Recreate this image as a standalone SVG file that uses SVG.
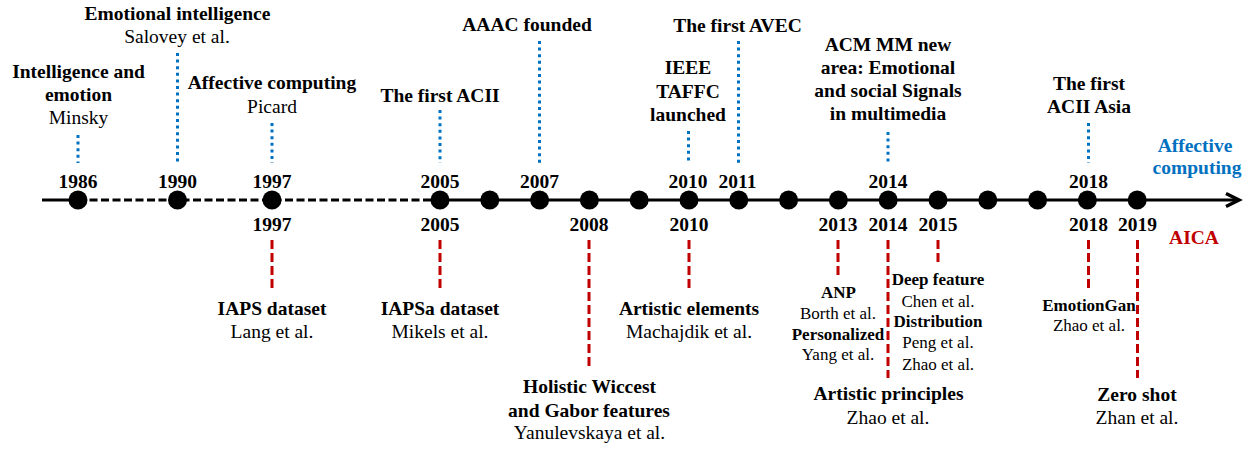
<svg xmlns="http://www.w3.org/2000/svg" width="1250" height="449" viewBox="0 0 1250 449">
<style>
text{font-family:"Liberation Serif","Times New Roman",serif;text-anchor:middle;fill:#000}
.b{font-weight:bold;font-size:19.5px}
.r{font-size:19.5px}
.sb{font-weight:bold;font-size:17px}
.sr{font-size:17px}
.blue{fill:#0070C0}
.red{fill:#C00000}
.dot{stroke:#0070C0;stroke-width:3;stroke-dasharray:3 3.6;fill:none}
.dash{stroke:#C00000;stroke-width:3;stroke-dasharray:9 4;fill:none}
.node{fill:#000}
</style>
<g id="connectors">
<line x1="42" y1="200" x2="78" y2="200" stroke="#000" stroke-width="3"/>
<line x1="88" y1="200" x2="440" y2="200" stroke="#000" stroke-width="3" stroke-dasharray="8 3.5" stroke-dashoffset="-1.5"/>
<line x1="440" y1="200" x2="1239" y2="200" stroke="#000" stroke-width="3"/>
<polyline points="1226,193.5 1239,200 1226,206.5" fill="none" stroke="#000" stroke-width="3.5"/>
<line class="dot" x1="78" y1="135" x2="78" y2="163"/>
<line class="dot" x1="177.5" y1="53" x2="177.5" y2="163"/>
<line class="dot" x1="272" y1="123" x2="272" y2="163"/>
<line class="dot" x1="440" y1="110" x2="440" y2="163"/>
<line class="dot" x1="539.5" y1="41" x2="539.5" y2="163"/>
<line class="dot" x1="688.5" y1="131" x2="688.5" y2="163"/>
<line class="dot" x1="738.5" y1="41" x2="738.5" y2="163"/>
<line class="dot" x1="888" y1="132" x2="888" y2="163"/>
<line class="dot" x1="1088.5" y1="123" x2="1088.5" y2="163"/>
<line class="dash" x1="272" y1="240" x2="272" y2="289"/>
<line class="dash" x1="440" y1="240" x2="440" y2="289"/>
<line class="dash" x1="589" y1="240" x2="589" y2="368"/>
<line class="dash" x1="689" y1="240" x2="689" y2="289"/>
<line class="dash" x1="838" y1="240" x2="838" y2="276"/>
<line class="dash" x1="888" y1="240" x2="888" y2="378"/>
<line class="dash" x1="938" y1="240" x2="938" y2="263"/>
<line class="dash" x1="1088.5" y1="240" x2="1088.5" y2="289"/>
<line class="dash" x1="1137.5" y1="240" x2="1137.5" y2="378"/>
</g>
<g id="dots">
<circle class="node" cx="78" cy="200" r="9.5"/>
<circle class="node" cx="177.5" cy="200" r="9.5"/>
<circle class="node" cx="272" cy="200" r="9.5"/>
<circle class="node" cx="440" cy="200" r="9.5"/>
<circle class="node" cx="489.8" cy="200" r="9.5"/>
<circle class="node" cx="539.6" cy="200" r="9.5"/>
<circle class="node" cx="589.4" cy="200" r="9.5"/>
<circle class="node" cx="639.2" cy="200" r="9.5"/>
<circle class="node" cx="689" cy="200" r="9.5"/>
<circle class="node" cx="738.8" cy="200" r="9.5"/>
<circle class="node" cx="788.6" cy="200" r="9.5"/>
<circle class="node" cx="838.4" cy="200" r="9.5"/>
<circle class="node" cx="888.2" cy="200" r="9.5"/>
<circle class="node" cx="938" cy="200" r="9.5"/>
<circle class="node" cx="987.8" cy="200" r="9.5"/>
<circle class="node" cx="1037.6" cy="200" r="9.5"/>
<circle class="node" cx="1087.4" cy="200" r="9.5"/>
<circle class="node" cx="1137.2" cy="200" r="9.5"/>
</g>
<g id="years-top">
<text class="b" x="78" y="188">1986</text>
<text class="b" x="177.5" y="188">1990</text>
<text class="b" x="272" y="188">1997</text>
<text class="b" x="440" y="188">2005</text>
<text class="b" x="539.5" y="188">2007</text>
<text class="b" x="688" y="188">2010</text>
<text class="b" x="737.5" y="188">2011</text>
<text class="b" x="888" y="188">2014</text>
<text class="b" x="1088.5" y="188">2018</text>
</g>
<g id="years-bottom">
<text class="b" x="272" y="231">1997</text>
<text class="b" x="440" y="231">2005</text>
<text class="b" x="589" y="231">2008</text>
<text class="b" x="689" y="231">2010</text>
<text class="b" x="838" y="231">2013</text>
<text class="b" x="888" y="231">2014</text>
<text class="b" x="938" y="231">2015</text>
<text class="b" x="1088.5" y="231">2018</text>
<text class="b" x="1137.5" y="231">2019</text>
</g>
<g id="legend-affective"><text class="b blue" x="1195" y="152">Affective</text><text class="b blue" x="1197" y="174">computing</text></g>
<g id="legend-aica"><text class="b red" x="1194" y="244">AICA</text></g>
<g id="ev-1986"><text class="b" x="78.5" y="78">Intelligence and</text><text class="b" x="78.5" y="101">emotion</text><text class="r" x="78.5" y="124">Minsky</text></g>
<g id="ev-1990"><text class="b" x="177.5" y="20">Emotional intelligence</text><text class="r" x="177" y="43">Salovey et al.</text></g>
<g id="ev-1997"><text class="b" x="272" y="89">Affective computing</text><text class="r" x="272" y="113">Picard</text></g>
<g id="ev-2005"><text class="b" x="440" y="102">The first ACII</text></g>
<g id="ev-2007"><text class="b" x="527" y="31">AAAC founded</text></g>
<g id="ev-2010"><text class="b" x="688" y="74">IEEE</text><text class="b" x="688" y="98">TAFFC</text><text class="b" x="688" y="121">launched</text></g>
<g id="ev-2011"><text class="b" x="737.5" y="32">The first AVEC</text></g>
<g id="ev-2014"><text class="b" x="888" y="51">ACM MM new</text><text class="b" x="888" y="74">area: Emotional</text><text class="b" x="888" y="97">and social Signals</text><text class="b" x="888" y="120">in multimedia</text></g>
<g id="ev-2018"><text class="b" x="1089" y="90">The first</text><text class="b" x="1089" y="113">ACII Asia</text></g>
<g id="aica-1997"><text class="b" x="272" y="315">IAPS dataset</text><text class="r" x="272" y="338">Lang et al.</text></g>
<g id="aica-2005"><text class="b" x="440" y="315">IAPSa dataset</text><text class="r" x="440" y="338">Mikels et al.</text></g>
<g id="aica-2008"><text class="b" x="589.5" y="393">Holistic Wiccest</text><text class="b" x="589" y="417">and Gabor features</text><text class="r" x="589.5" y="439">Yanulevskaya et al.</text></g>
<g id="aica-2010"><text class="b" x="689" y="315">Artistic elements</text><text class="r" x="689" y="338">Machajdik et al.</text></g>
<g id="aica-2013"><text class="sb" x="838.5" y="298">ANP</text><text class="sr" x="838" y="319">Borth et al.</text><text class="sb" x="838" y="340">Personalized</text><text class="sr" x="838" y="360">Yang et al.</text></g>
<g id="aica-2014"><text class="b" x="888.5" y="400">Artistic principles</text><text class="r" x="888" y="424">Zhao et al.</text></g>
<g id="aica-2015"><text class="sb" x="938" y="285">Deep feature</text><text class="sr" x="938" y="307">Chen et al.</text><text class="sb" x="938" y="327">Distribution</text><text class="sr" x="938" y="348">Peng et al.</text><text class="sr" x="938" y="370">Zhao et al.</text></g>
<g id="aica-2018"><text class="sb" x="1089" y="311">EmotionGan</text><text class="sr" x="1089" y="331">Zhao et al.</text></g>
<g id="aica-2019"><text class="b" x="1137" y="401">Zero shot</text><text class="r" x="1137" y="424">Zhan et al.</text></g>
</svg>
